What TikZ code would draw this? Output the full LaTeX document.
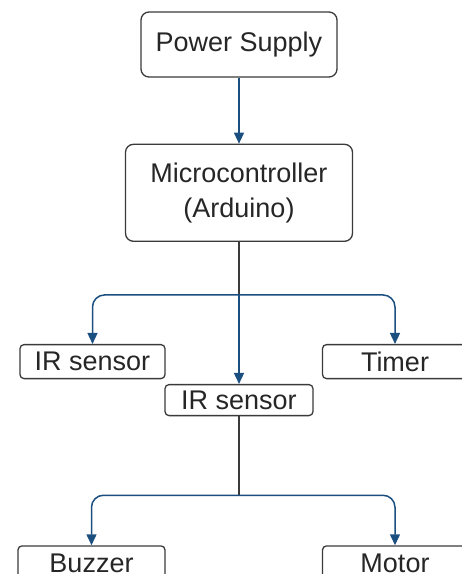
\documentclass[tikz,border=0pt]{standalone}
\usepackage{fontspec}
\setmainfont{Liberation Sans}
\definecolor{linkblue}{HTML}{1B4F80}
\definecolor{boxline}{HTML}{3A3A3A}
\usetikzlibrary{arrows.meta,positioning}

\begin{document}
\begin{tikzpicture}[
node distance=60pt,
block/.style={rectangle, draw=boxline, line width=1.3pt, rounded corners=8pt, text=black!85, align=center, font=\fontsize{27}{35}\selectfont, inner sep=0pt},
smallblock/.style={block, rounded corners=4pt, minimum width=145pt, minimum height=34pt},
link/.style={-{Triangle[length=11pt,width=10pt]}, line width=1.5pt, linkblue, rounded corners=12pt},
trunk/.style={line width=1.5pt, boxline}
]
\useasboundingbox (0,0) rectangle (462pt,-574pt);

\node (power) [block, minimum width=196pt, minimum height=65pt] at (239pt,-44.5pt) {Power Supply};
\node (micro) [block, minimum width=227pt, minimum height=97pt, below=66pt of power] {Microcontroller\\(Arduino)};
\node (irleft) [smallblock, below=102pt of micro, xshift=-146.5pt] {IR sensor};
\node (timer) [smallblock, below=102pt of micro, xshift=156pt] {Timer};
\node (irmid) [smallblock, minimum width=148pt, minimum height=31pt, below=142pt of micro] {IR sensor};
\node (buzzer) [smallblock, minimum width=147pt, below=129pt of irmid, xshift=-147.5pt] {Buzzer};
\node (motor) [smallblock, below=129pt of irmid, xshift=156pt] {Motor};

\coordinate (split1) at ([yshift=-53pt]micro.south);
\coordinate (split2) at ([yshift=-79pt]irmid.south);

\draw [link] (power) -- (micro);
\draw [trunk] (micro) -- (split1);
\draw [link] (split1) -| (irleft);
\draw [link] (split1) -| (timer);
\draw [link] (split1) -- (irmid);
\draw [trunk] (irmid) -- (split2);
\draw [link] (split2) -| (buzzer);
\draw [link] (split2) -| (motor);
\end{tikzpicture}
\end{document}
